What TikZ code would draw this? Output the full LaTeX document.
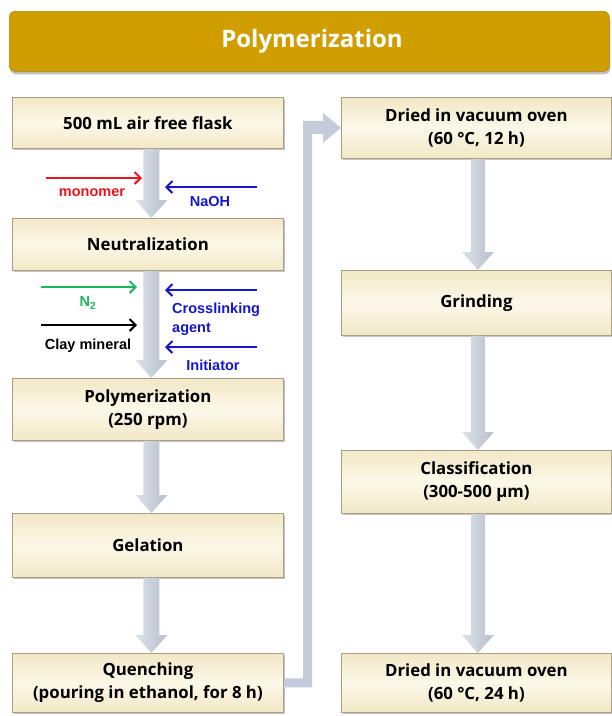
\documentclass[tikz,border=0pt]{standalone}
\usepackage{fontspec}
\setmainfont{Open Sans}
\newfontfamily\arialfont{Liberation Sans}
\usetikzlibrary{arrows.meta,shadows,calc}
\definecolor{titlegold}{HTML}{D09E00}
\definecolor{boxedge}{HTML}{A89E86}
\definecolor{creamA}{HTML}{F2E8C6}
\definecolor{creamB}{HTML}{FCF8E9}
\definecolor{arrowL}{HTML}{DDE2E9}
\definecolor{arrowR}{HTML}{B6BFCB}
\definecolor{loopcol}{HTML}{C3CCD8}
\definecolor{inred}{HTML}{E8161C}
\definecolor{inblue}{HTML}{1416D0}
\definecolor{ingreen}{HTML}{1EB85A}
\tikzset{
  procbox/.style={rectangle, draw=boxedge, line width=0.8pt, inner sep=0pt,
    anchor=north west, align=center, minimum width=271pt,
    top color=creamA, bottom color=creamA, middle color=creamB,
    font=\fontsize{16.8}{23}\selectfont\bfseries,
    drop shadow={shadow xshift=1.5pt, shadow yshift=-2pt, fill=black!45, opacity=0.5}},
  inarrow/.style={line width=2pt, -{Straight Barb[length=6pt,width=12pt]}},
  inlabel/.style={font=\arialfont\fontsize{14.5}{19}\selectfont\bfseries, inner sep=0pt}
}
\newcommand\bigarr[2]{%
  \shade[left color=arrowL, right color=arrowR]
    let \p1=([xshift=3.5pt]#1.south), \p2=([xshift=3.5pt]#2.north) in
    (\x1-8pt,\y1) -- (\x1+8pt,\y1) -- (\x1+8pt,\y2+18pt) -- (\x1+16pt,\y2+18pt)
    -- (\x2,\y2) -- (\x1-16pt,\y2+18pt) -- (\x1-8pt,\y2+18pt) -- cycle;}
\newcommand\bigarrR[2]{%
  \shade[left color=arrowL, right color=arrowR]
    let \p1=([xshift=1.5pt]#1.south), \p2=([xshift=1.5pt]#2.north) in
    (\x1-7pt,\y1) -- (\x1+7pt,\y1) -- (\x1+7pt,\y2+18pt) -- (\x1+16pt,\y2+18pt)
    -- (\x2,\y2) -- (\x1-16pt,\y2+18pt) -- (\x1-7pt,\y2+18pt) -- cycle;}
\begin{document}
\begin{tikzpicture}[x=1pt,y=-1pt]
\useasboundingbox (0,0) rectangle (612,716);
\fill[white] (0,0) rectangle (612,716);

% title
\node[rectangle, rounded corners=6pt, fill=titlegold, draw=titlegold!85!black, line width=0.6pt,
  minimum width=600pt, minimum height=60pt, anchor=north west,
  drop shadow={shadow xshift=1pt, shadow yshift=-3pt, fill=black!50, opacity=0.5},
  text=white, font=\fontsize{24}{28}\selectfont\bfseries] (title) at (9,11) {};
\node[text=white, font=\fontsize{24}{28}\selectfont\bfseries] (titletext) at (312,41) {Polymerization};

% left column boxes
\node[procbox, minimum height=51pt] (b1) at (12,97) {500 mL air free flask};
\node[procbox, minimum height=52pt] (b2) at (12,218) {Neutralization};
\node[procbox, minimum height=62pt] (b3) at (12,378) {Polymerization\\(250 rpm)};
\node[procbox, minimum height=64pt] (b4) at (12,513) {Gelation};
\node[procbox, minimum height=59pt] (b5) at (12,653) {Quenching\\(pouring in ethanol, for 8 h)};

% right column boxes
\node[procbox, minimum width=270pt, minimum height=61pt] (r1) at (341,97) {Dried in vacuum oven\\(60 °C, 12 h)};
\node[procbox, minimum width=270pt, minimum height=65pt] (r2) at (341,270) {Grinding};
\node[procbox, minimum width=270pt, minimum height=63pt] (r3) at (341,450) {Classification\\(300-500 µm)};
\node[procbox, minimum width=270pt, minimum height=59pt] (r4) at (341,653) {Dried in vacuum oven\\(60 °C, 24 h)};

% main flow arrows
\bigarr{b1}{b2}
\bigarr{b2}{b3}
\bigarr{b3}{b4}
\bigarr{b4}{b5}
\bigarrR{r1}{r2}
\bigarrR{r2}{r3}
\bigarrR{r3}{r4}

% loop from quenching to first drying
\fill[loopcol] let \p1=(b5.east), \p2=(r1.west) in
  (\x1,\y1+4.5pt) -- (\x2-38pt,\y1+4.5pt) -- (\x2-38pt,\y2+7pt) -- (\x2-18pt,\y2+7pt)
  -- (\x2-18pt,\y2+15pt) -- (\x2,\y2) -- (\x2-18pt,\y2-15pt) -- (\x2-18pt,\y2-6pt)
  -- (\x2-29pt,\y2-6pt) -- (\x2-29pt,\y1-4.5pt) -- (\x1,\y1-4.5pt) -- cycle;

% input arrows
\coordinate (m0) at (46,178);  \coordinate (m1) at (142,178);
\coordinate (n0) at (257,187); \coordinate (n1) at (165,187);
\coordinate (g0) at (41,287);  \coordinate (g1) at (137,287);
\coordinate (c0) at (41,325);  \coordinate (c1) at (137,325);
\coordinate (x0) at (257,290); \coordinate (x1) at (165,290);
\coordinate (i0) at (257,347); \coordinate (i1) at (165,347);
\draw[inarrow, inred] (m0) -- (m1);
\draw[inarrow, inblue] (n0) -- (n1);
\draw[inarrow, ingreen] (g0) -- (g1);
\draw[inarrow, black] (c0) -- (c1);
\draw[inarrow, inblue] (x0) -- (x1);
\draw[inarrow, inblue] (i0) -- (i1);
\node[inlabel, text=inred] (lm) at (92,193) {monomer};
\node[inlabel, text=inblue] (ln) at (210,202) {NaOH};
\node[inlabel, text=ingreen] (lg) at (88,303) {N\textsubscript{2}};
\node[inlabel, text=black] (lc) at (88,346) {Clay mineral};
\node[inlabel, text=inblue, align=left, anchor=west] (lx) at (172,319.5) {Crosslinking\\agent};
\node[inlabel, text=inblue] (li) at (213,365) {Initiator};
\end{tikzpicture}
\end{document}
